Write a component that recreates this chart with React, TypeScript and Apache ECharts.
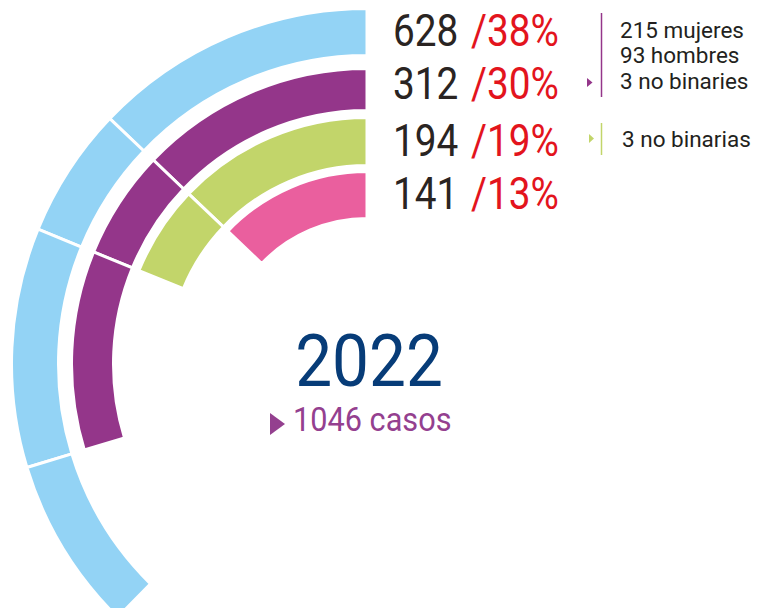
import React, { useEffect, useRef } from "react";
import * as echarts from "echarts";

// ---- data (outer ring → inner ring) ----
const ringNames = ["Total", "Grupo 2", "Grupo 3", "Grupo 4"];
const counts = [628, 312, 194, 141];
const percents = [38, 30, 19, 13];
const purpleBreakdown = ["215 mujeres", "93 hombres", "3 no binaries"];
const greenBreakdown = ["3 no binarias"];
const yearLabel = "2022";
const totalLabel = "1046 casos";

// ---- style ----
const ringColors = ["#93d3f5", "#94368a", "#c2d56a", "#ea5f9e"];
const ringRadii = [
  [310, 354],
  [255, 294],
  [200, 245],
  [147, 191],
];
const CX = 367;
const CY = 364;
const BORDER = 3;
const ANGLE_MAX = 101;
const rowY = [31, 84, 141, 194];
const FONT = "Roboto, 'Noto Sans', sans-serif";

export default function App() {
  const ref = useRef<HTMLDivElement>(null);

  useEffect(() => {
    if (!ref.current) return;
    const chart = echarts.init(ref.current, undefined, { renderer: "svg" });

    const sortedBounds = [...percents].sort((a, b) => a - b);

    const polar: any[] = [];
    const angleAxis: any[] = [];
    const radiusAxis: any[] = [];
    const series: any[] = [];

    ringNames.forEach((name, k) => {
      const [r0, r1] = ringRadii[k];
      polar.push({ center: [CX, CY], radius: [r0 - BORDER / 2, r1 + BORDER / 2] });
      angleAxis.push({
        polarIndex: k,
        type: "value",
        min: 0,
        max: ANGLE_MAX,
        startAngle: 90,
        clockwise: false,
        show: false,
        axisLine: { show: false },
        splitLine: { show: false },
        axisTick: { show: false },
        axisLabel: { show: false },
      });
      radiusAxis.push({
        polarIndex: k,
        type: "category",
        data: [name],
        show: false,
        axisLine: { show: false },
        axisTick: { show: false },
        axisLabel: { show: false },
      });
      const v = percents[k];
      let prev = 0;
      sortedBounds
        .filter((b) => b <= v)
        .forEach((b) => {
          series.push({
            type: "bar",
            coordinateSystem: "polar",
            polarIndex: k,
            stack: "ring" + k,
            barWidth: "100%",
            data: [b - prev],
            itemStyle: {
              color: ringColors[k],
              borderColor: "#ffffff",
              borderWidth: BORDER,
            },
            silent: true,
            z: 2,
          });
          prev = b;
        });
    });

    const graphic: any[] = [];
    counts.forEach((c, k) => {
      graphic.push({
        type: "text",
        x: 393,
        y: rowY[k],
        scaleX: 0.88,
        style: {
          text: String(c),
          font: `400 44px ${FONT}`,
          fill: "#2a2422",
          textAlign: "left",
          verticalAlign: "middle",
        },
      });
      graphic.push({
        type: "text",
        x: 471,
        y: rowY[k],
        scaleX: 0.88,
        style: {
          text: "/" + percents[k] + "%",
          font: `400 44px ${FONT}`,
          fill: "#e3141d",
          textAlign: "left",
          verticalAlign: "middle",
        },
      });
    });

    // purple breakdown
    graphic.push({
      type: "line",
      shape: { x1: 601.5, y1: 13, x2: 601.5, y2: 97 },
      style: { stroke: ringColors[1], lineWidth: 1.5 },
    });
    graphic.push({
      type: "polygon",
      shape: { points: [[587, 78], [592.5, 82.5], [587, 87]] },
      style: { fill: ringColors[1] },
    });
    purpleBreakdown.forEach((t, i) => {
      graphic.push({
        type: "text",
        x: 620,
        y: 29.5 + i * 25.7,
        style: {
          text: t,
          font: `400 22.5px ${FONT}`,
          fill: "#231f20",
          textAlign: "left",
          verticalAlign: "middle",
        },
      });
    });

    // green breakdown
    graphic.push({
      type: "line",
      shape: { x1: 601.5, y1: 123, x2: 601.5, y2: 155 },
      style: { stroke: ringColors[2], lineWidth: 1.5 },
    });
    graphic.push({
      type: "polygon",
      shape: { points: [[589, 134], [594, 138.5], [589, 143]] },
      style: { fill: ringColors[2] },
    });
    greenBreakdown.forEach((t, i) => {
      graphic.push({
        type: "text",
        x: 622,
        y: 139 + i * 26,
        style: {
          text: t,
          font: `400 22.5px ${FONT}`,
          fill: "#231f20",
          textAlign: "left",
          verticalAlign: "middle",
        },
      });
    });

    // center
    graphic.push({
      type: "text",
      x: 369,
      y: 361,
      scaleX: 0.9,
      style: {
        text: yearLabel,
        font: `400 73px ${FONT}`,
        fill: "#073c78",
        textAlign: "center",
        verticalAlign: "middle",
      },
    });
    graphic.push({
      type: "polygon",
      shape: { points: [[270, 413], [285, 424], [270, 435]] },
      style: { fill: "#94408f" },
    });
    graphic.push({
      type: "text",
      x: 293,
      y: 420,
      scaleX: 0.93,
      style: {
        text: totalLabel,
        font: `400 33px ${FONT}`,
        fill: "#94408f",
        textAlign: "left",
        verticalAlign: "middle",
      },
    });

    chart.setOption({
      animation: false,
      backgroundColor: "#ffffff",
      polar,
      angleAxis,
      radiusAxis,
      series,
      graphic,
    });

    return () => chart.dispose();
  }, []);

  return (
    <div
      ref={ref}
      style={{ position: "fixed", left: 0, top: 0, width: 768, height: 608 }}
    />
  );
}
